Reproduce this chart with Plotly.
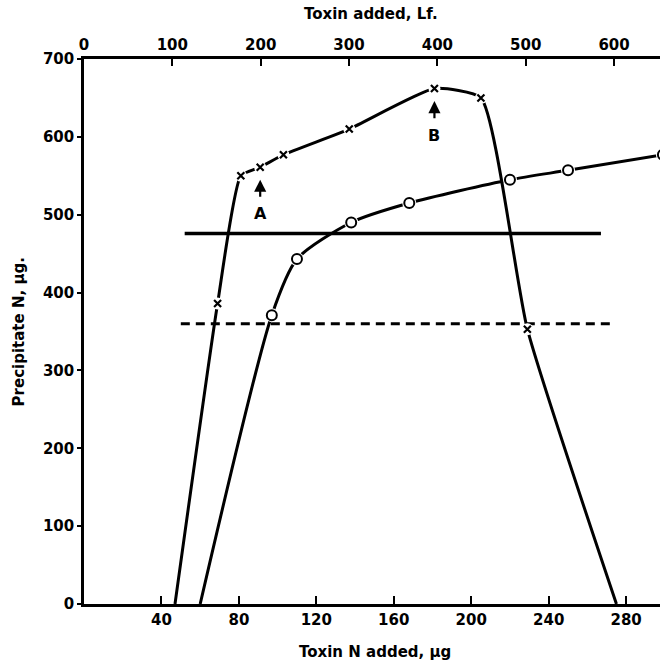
import plotly.graph_objects as go

# Toxin N added (µg) and precipitate N (µg) for the two titrations
toxin_x = [69, 81, 91, 103, 137, 181, 205, 229]
precip_x = [386, 550, 561, 577, 610, 662, 650, 353]
curve_x_start = (47, 0)
curve_x_end = (275, 0)

toxin_o = [97, 110, 138, 168, 220, 250, 299]
precip_o = [371, 443, 490, 515, 545, 557, 577]
curve_o_start = (60, 0)

# Horizontal reference levels
solid_level = 476
solid_span = [52, 267]
dashed_level = 360
dashed_span = [50, 272]

# Marked points A and B
label_a = (91, 561)
label_b = (181, 662)

x_ticks = [40, 80, 120, 160, 200, 240, 280]
y_ticks = [0, 100, 200, 300, 400, 500, 600, 700]
lf_ticks = [0, 100, 200, 300, 400, 500, 600]

X_RANGE = [0, 297.5]
LF_RANGE = [0, 652]
Y_RANGE = [0, 700]

FONT = dict(family="'DejaVu Sans', sans-serif", size=15, color="black", weight="bold")
TITLE_FONT = dict(FONT, size=15)
INK = "black"

fig = go.Figure()

# x-series curve
fig.add_trace(go.Scatter(
    x=[curve_x_start[0]] + toxin_x + [curve_x_end[0]],
    y=[curve_x_start[1]] + precip_x + [curve_x_end[1]],
    mode="lines", line=dict(color=INK, width=3, shape="spline", smoothing=0.5),
    hoverinfo="skip", showlegend=False))

# o-series curve
fig.add_trace(go.Scatter(
    x=[curve_o_start[0]] + toxin_o,
    y=[curve_o_start[1]] + precip_o,
    mode="lines", line=dict(color=INK, width=3, shape="spline", smoothing=0.7),
    hoverinfo="skip", showlegend=False))

# horizontal levels
fig.add_trace(go.Scatter(
    x=solid_span, y=[solid_level, solid_level], mode="lines",
    line=dict(color=INK, width=3.5), hoverinfo="skip", showlegend=False))
fig.add_trace(go.Scatter(
    x=dashed_span, y=[dashed_level, dashed_level], mode="lines",
    line=dict(color=INK, width=3, dash="9px,6px"), hoverinfo="skip", showlegend=False))

# white halos so the curves break around each point
fig.add_trace(go.Scatter(
    x=toxin_x, y=precip_x, mode="markers",
    marker=dict(symbol="circle", size=12, color="white"),
    hoverinfo="skip", showlegend=False))
fig.add_trace(go.Scatter(
    x=toxin_o, y=precip_o, mode="markers",
    marker=dict(symbol="circle", size=14, color="white"),
    hoverinfo="skip", showlegend=False))

# point markers
fig.add_trace(go.Scatter(
    x=toxin_x, y=precip_x, mode="markers",
    marker=dict(symbol="x-thin", size=7, line=dict(color=INK, width=2.2)),
    showlegend=False))
fig.add_trace(go.Scatter(
    x=toxin_o, y=precip_o, mode="markers",
    marker=dict(symbol="circle", size=10, color="white", line=dict(color=INK, width=2)),
    showlegend=False))

# top axis carrier (Lf scale)
fig.add_trace(go.Scatter(x=[None], y=[None], xaxis="x2", showlegend=False, hoverinfo="skip"))

annotations = []
for (px, py), letter in [(label_a, "A"), (label_b, "B")]:
    annotations.append(dict(
        x=px, y=py - 16, ax=px, ay=py - 40, xref="x", yref="y", axref="x", ayref="y",
        text="", showarrow=True, arrowhead=2, arrowsize=1.1, arrowwidth=2.2, arrowcolor=INK))
    annotations.append(dict(
        x=px, y=py - 60, xref="x", yref="y", text=letter, showarrow=False,
        font=dict(FONT, size=16)))

annotations += [
    dict(x=0.498, y=1.083, xref="paper", yref="paper", yanchor="middle",
         text="Toxin added, Lf.", showarrow=False, font=TITLE_FONT),
    dict(x=0.505, y=-0.088, xref="paper", yref="paper", yanchor="middle",
         text="Toxin N added, µg", showarrow=False, font=TITLE_FONT),
    dict(x=-0.113, y=0.5, xref="paper", yref="paper", xanchor="center",
         text="Precipitate N, µg.", showarrow=False, font=TITLE_FONT, textangle=-90),
]

fig.update_layout(
    width=660, height=663,
    margin=dict(l=84, r=0, t=59, b=59),
    paper_bgcolor="white", plot_bgcolor="white",
    font=FONT,
    showlegend=False,
    annotations=annotations,
    xaxis=dict(range=X_RANGE, tickvals=x_ticks, ticktext=[str(v) for v in x_ticks],
               showgrid=False, zeroline=False, showline=True, linecolor=INK, linewidth=2.5,
               ticks="inside", ticklen=8, tickwidth=2, tickcolor=INK, tickfont=FONT),
    xaxis2=dict(range=LF_RANGE, overlaying="x", side="top", anchor="y",
                tickvals=lf_ticks, ticktext=[str(v) for v in lf_ticks],
                showgrid=False, zeroline=False, showline=True, linecolor=INK, linewidth=2.5,
                ticks="inside", ticklen=7, tickwidth=2, tickcolor=INK, tickfont=FONT),
    yaxis=dict(range=Y_RANGE, tickvals=y_ticks, ticktext=[str(v) for v in y_ticks],
               showgrid=False, zeroline=False, showline=True, linecolor=INK, linewidth=2.5,
               ticks="outside", ticklen=4, tickwidth=2, tickcolor=INK, tickfont=FONT),
)

fig.write_html("out.html")
